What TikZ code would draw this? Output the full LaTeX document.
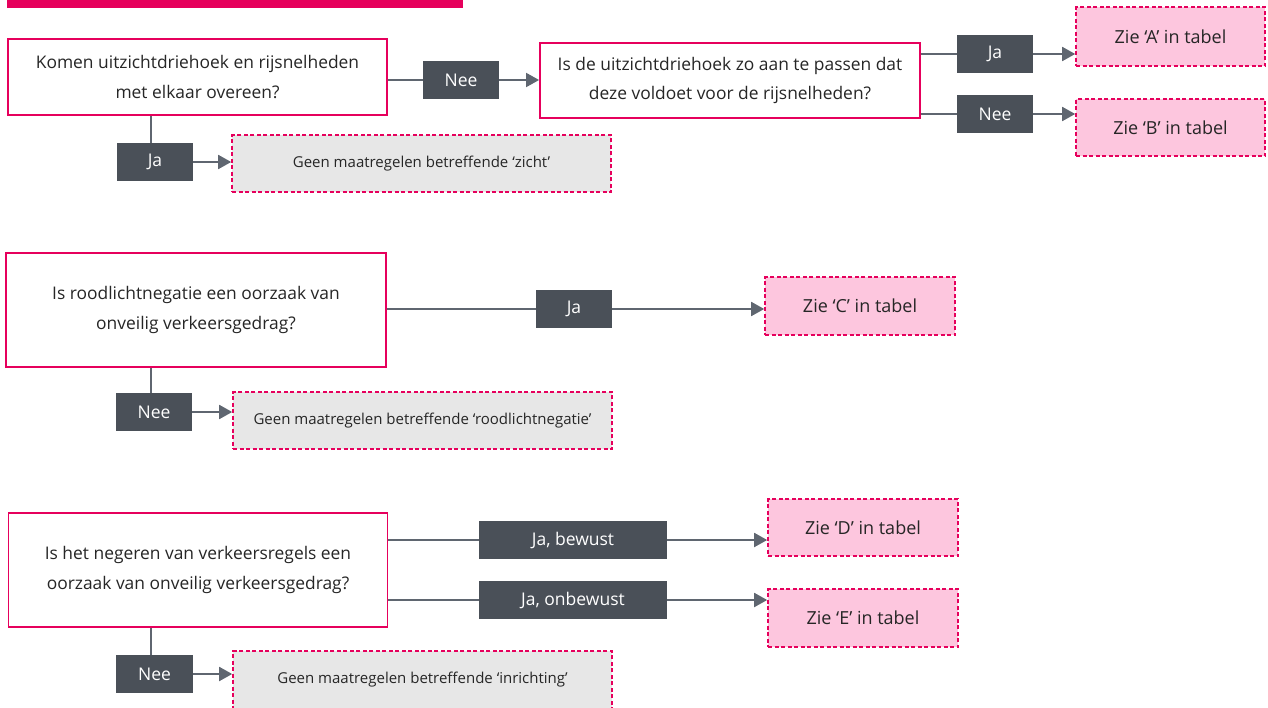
\documentclass[tikz,border=0pt]{standalone}
\usepackage{fontspec}
\setmainfont{Open Sans}
\usetikzlibrary{arrows.meta}
\definecolor{mag}{HTML}{E6005C}
\definecolor{pinkfill}{HTML}{FDC6DE}
\definecolor{greyfill}{HTML}{E7E7E7}
\definecolor{dark}{HTML}{4A5058}
\definecolor{conn}{HTML}{5F6670}
\tikzset{
  qbox/.style={draw=mag, line width=1.8pt, fill=white, inner sep=0pt, align=center,
    font=\fontsize{17.4}{29.5}\selectfont, text=black!85},
  lab/.style={fill=dark, text=white, inner sep=0pt, minimum height=38pt,
    font=\fontsize{17.5}{20}\selectfont},
  zie/.style={draw=mag, dash pattern=on 4pt off 2.5pt, line width=1.6pt, fill=pinkfill,
    inner sep=0pt, font=\fontsize{18}{21}\selectfont, text=black!85},
  geen/.style={draw=mag, dash pattern=on 4pt off 2.5pt, line width=1.6pt, fill=greyfill,
    inner sep=0pt, font=\fontsize{15}{18}\selectfont, text=black!85},
  cline/.style={draw=conn, line width=1.8pt},
  carrow/.style={draw=conn, line width=1.8pt, -{Triangle[length=13pt,width=14pt]}, fill=conn},
}
\begin{document}
\begin{tikzpicture}[x=1pt,y=-1pt]
\useasboundingbox (0,0) rectangle (1268,707);
\clip (0,0) rectangle (1268,707);
\fill[mag] (7,0) rectangle (463,8);

% Section 1
\node[qbox, minimum width=379pt, minimum height=76pt] (q1) at (197.5,77) {Komen uitzichtdriehoek en rijsnelheden\\met elkaar overeen?};
\node[lab, minimum width=76pt] (nee1) at (461,80) {Nee};
\node[qbox, minimum width=380pt, minimum height=75pt] (q2) at (730,80.5) {Is de uitzichtdriehoek zo aan te passen dat\\deze voldoet voor de rijsnelheden?};
\node[lab, minimum width=76pt] (ja2) at (995,54) {Ja};
\node[lab, minimum width=76pt] (nee2) at (995,114) {Nee};
\node[zie, minimum width=189pt, minimum height=59pt] (zieA) at (1170.5,36.5) {Zie ‘A’ in tabel};
\node[zie, minimum width=189pt, minimum height=57pt] (zieB) at (1170.5,127.5) {Zie ‘B’ in tabel};
\node[lab, minimum width=76pt] (ja1) at (155,162) {Ja};
\node[geen, minimum width=379pt, minimum height=57pt] (geen1) at (421.5,163.5) {Geen maatregelen betreffende ‘zicht’};

\draw[cline] (q1.east |- nee1.west) -- (nee1.west);
\draw[carrow] (nee1.east) -- (nee1.east -| q2.west);
\draw[cline] (ja2.west -| q2.east) -- (ja2.west);
\draw[carrow] (ja2.east) -- (ja2.east -| zieA.west);
\draw[cline] (nee2.west -| q2.east) -- (nee2.west);
\draw[carrow] (nee2.east) -- (nee2.east -| zieB.west);
\draw[cline] ([xshift=-4pt]ja1.north |- q1.south) -- ([xshift=-4pt]ja1.north);
\draw[carrow] (ja1.east) -- (ja1.east -| geen1.west);

% Section 2
\node[qbox, minimum width=380pt, minimum height=114pt] (q3) at (196,310) {Is roodlichtnegatie een oorzaak van\\onveilig verkeersgedrag?};
\node[lab, minimum width=76pt] (ja3) at (574,309) {Ja};
\node[zie, minimum width=190pt, minimum height=58pt] (zieC) at (860,306) {Zie ‘C’ in tabel};
\node[lab, minimum width=76pt] (nee3) at (154,412) {Nee};
\node[geen, minimum width=379pt, minimum height=57pt] (geen2) at (422.5,420.5) {Geen maatregelen betreffende ‘roodlichtnegatie’};

\draw[cline] (q3.east |- ja3.west) -- (ja3.west);
\draw[carrow] (ja3.east) -- (ja3.east -| zieC.west);
\draw[cline] ([xshift=-3pt]nee3.north |- q3.south) -- ([xshift=-3pt]nee3.north);
\draw[carrow] (nee3.east) -- (nee3.east -| geen2.west);

% Section 3
\node[qbox, minimum width=379pt, minimum height=114pt] (q4) at (198,570) {Is het negeren van verkeersregels een\\oorzaak van onveilig verkeersgedrag?};
\node[lab, minimum width=188pt] (jb) at (573,540) {Ja, bewust};
\node[lab, minimum width=188pt] (jo) at (573,600) {Ja, onbewust};
\node[zie, minimum width=190pt, minimum height=57pt] (zieD) at (863,527.5) {Zie ‘D’ in tabel};
\node[zie, minimum width=190pt, minimum height=58pt] (zieE) at (863,618) {Zie ‘E’ in tabel};
\node[lab, minimum width=77pt] (nee4) at (154.5,674) {Nee};
\node[geen, minimum width=379pt, minimum height=58pt] (geen3) at (422.5,680) {Geen maatregelen betreffende ‘inrichting’};

\draw[cline] (q4.east |- jb.west) -- (jb.west);
\draw[carrow] (jb.east) -- (jb.east -| zieD.west);
\draw[cline] (q4.east |- jo.west) -- (jo.west);
\draw[carrow] (jo.east) -- (jo.east -| zieE.west);
\draw[cline] ([xshift=-3.5pt]nee4.north |- q4.south) -- ([xshift=-3.5pt]nee4.north);
\draw[carrow] (nee4.east) -- (nee4.east -| geen3.west);
\end{tikzpicture}
\end{document}
